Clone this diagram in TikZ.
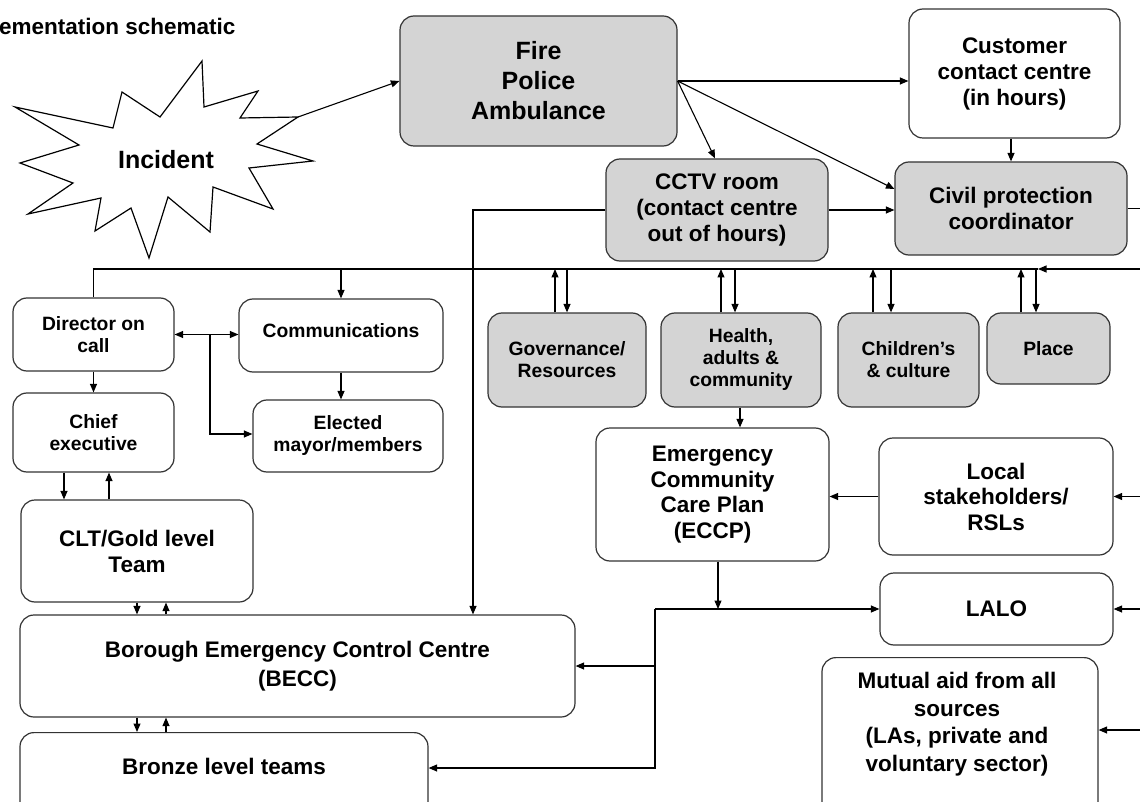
\documentclass[tikz,border=0pt]{standalone}
\usepackage{fontspec}
\setmainfont{Liberation Sans}
\usetikzlibrary{arrows.meta}
\newcommand\myfs[2]{\fontsize{#1pt}{#2pt}\selectfont\bfseries}
\begin{document}
\begin{tikzpicture}[x=1pt,y=-1pt,
  box/.style={draw=black!80, line width=1.2pt, rounded corners=14pt, inner sep=0pt, align=center, fill=white},
  grey/.style={box, fill=black!17},
  arr/.style={line width=1.1pt, -{Triangle[length=8.5pt,width=7pt]}},
  arrs/.style={line width=1.1pt, {Triangle[length=8.5pt,width=7pt]}-{Triangle[length=8.5pt,width=7pt]}},
  ln/.style={line width=1.1pt},
  txt/.style={inner sep=0pt, align=center},
  f25/.style={font={\myfs{25}{30}}},
  f22/.style={font={\myfs{22.5}{26}}},
  f19/.style={font={\myfs{19.3}{22}}},
]
\useasboundingbox (0,0) rectangle (1140,802);
\fill[white] (0,0) rectangle (1140,802);
\clip (0,0) rectangle (1140,802);

% title
\node[txt, f22, anchor=base west] (title) at (-1,35) {ementation schematic};

% incident starburst
\draw[line width=1.2pt, fill=white] (15,107) -- (113,128) -- (122,92) -- (160,117) -- (202,61) -- (204,107)
  -- (258,91) -- (240,118) -- (298,117) -- (257,144) -- (313,161) -- (249,168) -- (273,209)
  -- (213,187) -- (210,232) -- (168,197) -- (149,258) -- (131,208) -- (95,231) -- (101,198)
  -- (28,214) -- (73,183) -- (20,163) -- (79,145) -- cycle;
\coordinate (inctip) at (298,117);
\node[txt, f25] (incident) at (166,160) {Incident};

% boxes
\node[grey, f25, minimum width=277pt, minimum height=130pt] (fire) at (538.5,81) {Fire\\Police\\Ambulance};
\node[box, f22, minimum width=211pt, minimum height=129pt] (cust) at (1014.5,73.5) {Customer\\contact centre\\(in hours)};
\node[grey, f22, minimum width=222pt, minimum height=102pt] (cctv) at (717,210) {CCTV room\\(contact centre\\out of hours)};
\node[grey, f22, minimum width=232pt, minimum height=93pt] (civil) at (1011,208.5) {Civil protection\\coordinator};

\node[box, f19, minimum width=161pt, minimum height=73pt] (dir) at (93.5,334.5) {Director on\\call};
\node[box, f19, minimum width=204pt, minimum height=73pt, text depth=10pt] (comm) at (341,335.5) {Communications};
\node[box, f19, minimum width=161pt, minimum height=79pt] (chief) at (93.5,432.5) {Chief\\executive};
\node[box, f19, minimum width=190pt, minimum height=72pt] (elect) at (348,436) {Elected\\mayor/members};
\node[box, f22, minimum width=232pt, minimum height=102pt] (clt) at (137,551) {CLT/Gold level\\Team};
\node[box, font={\myfs{22.5}{29}}, minimum width=555pt, minimum height=102pt] (becc) at (297.5,666) {Borough Emergency Control Centre\\(BECC)};
\node[box, minimum width=408pt, minimum height=100pt, anchor=north] (bronze) at (224,732) {};
\node[txt, f22] (bronzetxt) at (224,766) {Bronze level teams};

\node[grey, f19, minimum width=158pt, minimum height=94pt] (gov) at (567,360) {Governance/\\Resources};
\node[grey, f19, minimum width=160pt, minimum height=94pt] (health) at (741,360) {Health,\\adults \&\\community};
\node[grey, f19, minimum width=141pt, minimum height=94pt] (child) at (908.5,360) {Children’s\\\& culture};
\node[grey, f19, minimum width=123pt, minimum height=71pt] (place) at (1048.5,348.5) {Place};

\node[box, font={\myfs{22.5}{25.5}}, minimum width=233pt, minimum height=133pt] (eccp) at (712.5,494.5) {Emergency\\Community\\Care Plan\\(ECCP)};
\node[box, font={\myfs{22.5}{25.5}}, minimum width=234pt, minimum height=117pt] (local) at (996,496.5) {Local\\stakeholders/\\RSLs};
\node[box, f22, minimum width=233pt, minimum height=72pt] (lalo) at (996.5,609) {LALO};
\node[box, minimum width=276pt, minimum height=170pt, anchor=north] (mutual) at (960,657) {};
\node[txt, font={\myfs{22.5}{27.5}}] (mutualtxt) at (957,724) {Mutual aid from all\\sources\\(LAs, private and\\voluntary sector)};

% helper coordinates
\coordinate (edgeR) at (1140,0);
\coordinate (bus) at (0,269);
\coordinate (busR) at (1038,269);
\coordinate (cx) at (473,0);
\coordinate (j) at (210,0);
\coordinate (v) at (655,0);

% connectors top
\draw[arr] (inctip) -- (fire.west);
\draw[arr] (fire.east) -- (cust.west |- fire.east);
\draw[arr] (fire.east) -- ([xshift=-2pt]cctv.north);
\draw[arr] (fire.east) -- ([yshift=19.5pt]civil.west);
\draw[arr] ([xshift=-3.5pt]cust.south) -- ([xshift=-3.5pt]cust.south |- civil.north);
\draw[arr] (cctv.east) -- (civil.west |- cctv.east);
\draw[arr] (cctv.west) -| (cx |- becc.north);
\draw[ln] (civil.east) -- (edgeR |- civil.east);

% bus
\draw[ln] (dir.north) |- (busR);
\draw[arr] (edgeR |- bus) -- (busR);
\draw[arr] (comm.north |- bus) -- (comm.north);
\draw[arr] ([xshift=-12pt]gov.north) -- ([xshift=-12pt]gov.north |- bus);
\draw[arr] (gov.north |- bus) -- (gov.north);
\draw[arr] ([xshift=-20pt]health.north) -- ([xshift=-20pt]health.north |- bus);
\draw[arr] ([xshift=-6pt]health.north |- bus) -- ([xshift=-6pt]health.north);
\draw[arr] ([xshift=-35.5pt]child.north) -- ([xshift=-35.5pt]child.north |- bus);
\draw[arr] ([xshift=-17.5pt]child.north |- bus) -- ([xshift=-17.5pt]child.north);
\draw[arr] ([xshift=-27.5pt]place.north) -- ([xshift=-27.5pt]place.north |- bus);
\draw[arr] ([xshift=-12.5pt]place.north |- bus) -- ([xshift=-12.5pt]place.north);

% left column
\draw[arr] (dir.south) -- (chief.north);
\draw[arrs] (dir.east) -- (comm.west |- dir.east);
\draw[arr] (j |- dir.east) |- ([yshift=2pt]elect.west);
\draw[arr] (comm.south) -- (comm.south |- elect.north);
\draw[arr] ([xshift=-29.5pt]chief.south) -- ([xshift=-29.5pt]chief.south |- clt.north);
\draw[arr] ([xshift=15.5pt]chief.south |- clt.north) -- ([xshift=15.5pt]chief.south);
\draw[arr] (clt.south) -- (clt.south |- becc.north);
\draw[arr] ([xshift=29pt]clt.south |- becc.north) -- ([xshift=29pt]clt.south);
\draw[arr] (clt.south |- becc.south) -- (clt.south |- bronze.north);
\draw[arr] ([xshift=29pt]clt.south |- bronze.north) -- ([xshift=29pt]clt.south |- becc.south);

% right side
\draw[arr] ([xshift=-1pt]health.south) -- ([xshift=-1pt]health.south |- eccp.north);
\draw[arr] (local.west) -- (eccp.east |- local.west);
\draw[arr] (edgeR |- local.east) -- (local.east);
\draw[arr] ([xshift=5.5pt]eccp.south) -- ([xshift=5.5pt]eccp.south |- lalo.west);
\draw[arr] (v |- lalo.west) -- (lalo.west);
\draw[arr] (v |- lalo.west) |- (becc.east);
\draw[arr] (v |- becc.east) |- ([yshift=-36pt]bronze.north east);
\draw[arr] (edgeR |- lalo.east) -- (lalo.east);
\draw[arr] (edgeR |- mutualtxt) ++(0,6) -- ([yshift=-73pt]mutual.north east);
\end{tikzpicture}
\end{document}
